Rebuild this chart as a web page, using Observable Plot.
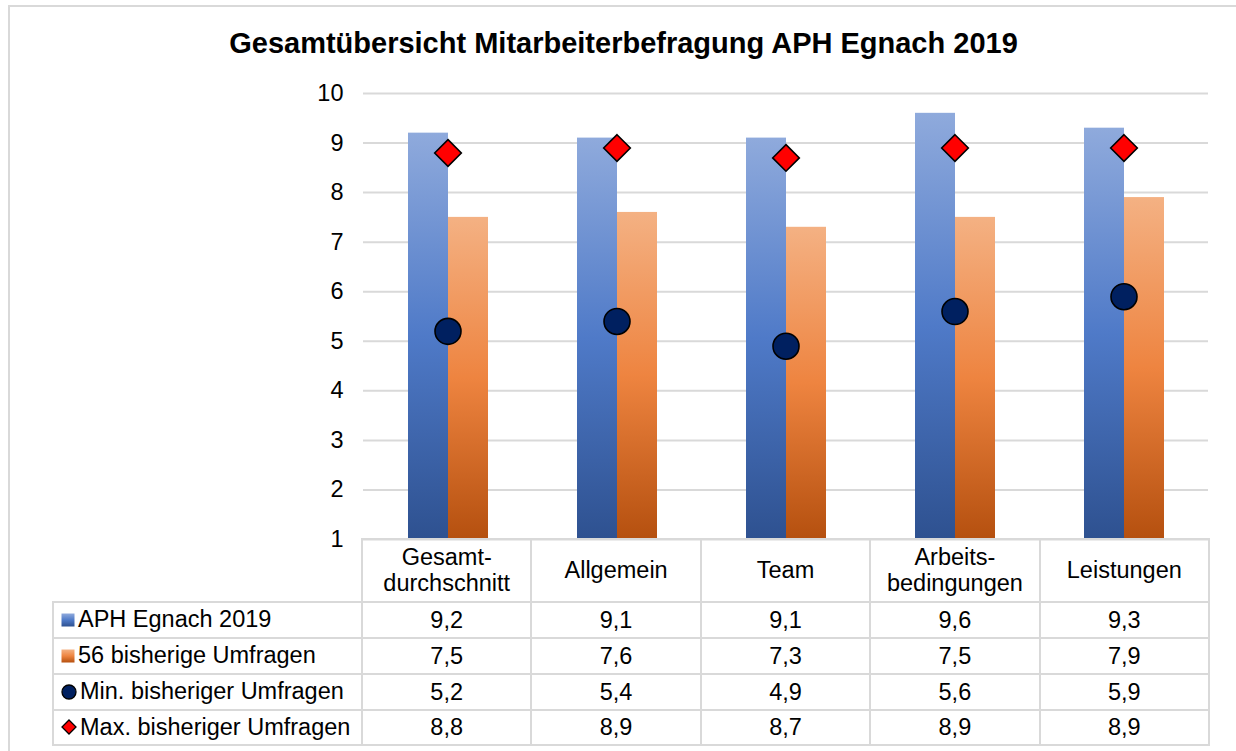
<!DOCTYPE html>
<html>
<head>
<meta charset="utf-8">
<script src="https://cdn.jsdelivr.net/npm/d3@7"></script>
<script src="https://cdn.jsdelivr.net/npm/@observablehq/plot@0.6"></script>
<style>
  html, body { margin: 0; padding: 0; background: #fff; }
  #wrap { position: relative; width: 1236px; height: 751px; overflow: hidden; background: #fff;
          font-family: "Liberation Sans", Arial, sans-serif; color: #000; }
  #frame { position: absolute; left: 8px; top: 5px; width: 1400px; height: 900px; border: 2px solid #d9d9d9; box-sizing: border-box; }
  #title { position: absolute; left: 0; width: 1247px; top: 29px; text-align: center; font-weight: bold; font-size: 29px; line-height: 1; }
  #chart { position: absolute; left: 0; top: 0; }
  .hl { position: absolute; height: 2px; background: #d9d9d9; }
  .vl { position: absolute; width: 2px; background: #d9d9d9; }
  .cell { position: absolute; display: flex; align-items: center; justify-content: center; text-align: center;
          font-size: 23.5px; line-height: 26px; white-space: pre-line; }
  .lab { position: absolute; display: flex; align-items: center; font-size: 23.5px; white-space: nowrap; }
  .lab svg { margin-left: 8px; margin-right: 3px; }
</style>
</head>
<body>
<div id="wrap">
  <div id="frame"></div>
  <div id="title">Gesamtübersicht Mitarbeiterbefragung APH Egnach 2019</div>
  <div id="chart"></div>
</div>
<script>
// ---- data ----
const categories = ["Gesamt-\ndurchschnitt", "Allgemein", "Team", "Arbeits-\nbedingungen", "Leistungen"];
const seriesNames = ["APH Egnach 2019", "56 bisherige Umfragen", "Min. bisheriger Umfragen", "Max. bisheriger Umfragen"];
const aph2019 = [9.2, 9.1, 9.1, 9.6, 9.3];
const bisherige = [7.5, 7.6, 7.3, 7.5, 7.9];
const minVals = [5.2, 5.4, 4.9, 5.6, 5.9];
const maxVals = [8.8, 8.9, 8.7, 8.9, 8.9];
const yTicks = [1, 2, 3, 4, 5, 6, 7, 8, 9, 10];

// ---- layout ----
const W = 1236, H = 560;
const mLeft = 362, mRight = 27, mTop = 93, mBottom = 21;
const fontFamily = '"Liberation Sans", Arial, sans-serif';

const rows = (vals, s) => categories.map((c, i) => ({cat: c, series: s, value: vals[i]}));
const aphData = rows(aph2019, seriesNames[0]);
const bisData = rows(bisherige, seriesNames[1]);
const minData = rows(minVals, seriesNames[2]);
const maxData = rows(maxVals, seriesNames[3]);

const svg = Plot.plot({
  width: W, height: H,
  marginLeft: mLeft, marginRight: mRight, marginTop: mTop, marginBottom: mBottom,
  style: {fontSize: "23.5px", fontFamily, color: "#000", background: "transparent", overflow: "visible"},
  fx: {domain: categories, padding: 0, axis: null},
  x: {domain: [seriesNames[0], seriesNames[1]], paddingInner: 0, paddingOuter: 1.066, axis: null},
  y: {domain: [yTicks[0], yTicks[yTicks.length - 1]], ticks: yTicks, tickSize: 0, tickPadding: 20, label: null, tickFormat: d => String(d)},
  marks: [
    Plot.ruleY(yTicks, {stroke: "#d9d9d9", strokeWidth: 2}),
    Plot.barY(aphData, {fx: "cat", x: "series", y1: yTicks[0], y2: "value", fill: "url(#gradBlue)"}),
    Plot.barY(bisData, {fx: "cat", x: "series", y1: yTicks[0], y2: "value", fill: "url(#gradOrange)"}),
    Plot.dot(minData, {fx: "cat", y: "value", r: 13, fill: "#002060", stroke: "#000", strokeWidth: 1.6}),
    Plot.dot(maxData, {fx: "cat", y: "value", r: 12, symbol: "diamond2", fill: "#ff0000", stroke: "#000", strokeWidth: 1.6})
  ]
});

const NS = "http://www.w3.org/2000/svg";
function makeGrad(id, stops) {
  const g = document.createElementNS(NS, "linearGradient");
  g.setAttribute("id", id);
  g.setAttribute("x1", "0"); g.setAttribute("y1", "0");
  g.setAttribute("x2", "0"); g.setAttribute("y2", "1");
  stops.forEach(([o, c]) => {
    const s = document.createElementNS(NS, "stop");
    s.setAttribute("offset", o); s.setAttribute("stop-color", c);
    g.appendChild(s);
  });
  return g;
}
const blueStops = [[0, "#8faadc"], [0.5, "#4f7ac8"], [1, "#2e5190"]];
const orangeStops = [[0, "#f4b183"], [0.5, "#ee8440"], [1, "#b5500f"]];
const defs = document.createElementNS(NS, "defs");
defs.appendChild(makeGrad("gradBlue", blueStops));
defs.appendChild(makeGrad("gradOrange", orangeStops));
svg.insertBefore(defs, svg.firstChild);
document.getElementById("chart").appendChild(svg);

// ---- data table ----
const wrap = document.getElementById("wrap");
const plotRight = W - mRight;
const step = (plotRight - mLeft) / categories.length;
const colX = [53, ...categories.map((c, i) => mLeft + i * step), plotRight];
const rowY = [H - mBottom, 601.5, 637.5, 673.5, 709.5, 745];
const fmt = v => v.toFixed(1).replace(".", ",");

function add(cls, css, html) {
  const d = document.createElement("div");
  d.className = cls;
  Object.assign(d.style, css);
  if (html !== undefined) d.innerHTML = html;
  wrap.appendChild(d);
  return d;
}
// header cells
categories.forEach((c, i) => {
  const d = add("cell", {left: colX[i + 1] + "px", top: rowY[0] + "px", width: (colX[i + 2] - colX[i + 1]) + "px", height: (rowY[1] - rowY[0]) + "px"});
  d.textContent = c;
});
// swatches
const swatches = [
  `<svg width="14" height="14"><defs><linearGradient id="sb" x1="0" y1="0" x2="0" y2="1">${blueStops.map(([o,c])=>`<stop offset="${o}" stop-color="${c}"/>`).join("")}</linearGradient></defs><rect x="0.5" y="0.5" width="13" height="13" fill="url(#sb)"/></svg>`,
  `<svg width="14" height="14"><defs><linearGradient id="so" x1="0" y1="0" x2="0" y2="1">${orangeStops.map(([o,c])=>`<stop offset="${o}" stop-color="${c}"/>`).join("")}</linearGradient></defs><rect x="0.5" y="0.5" width="13" height="13" fill="url(#so)"/></svg>`,
  `<svg width="16" height="16"><circle cx="8" cy="8" r="7" fill="#002060" stroke="#000" stroke-width="1.3"/></svg>`,
  `<svg width="16" height="16"><path d="M8,1 L15,8 L8,15 L1,8 Z" fill="#ff0000" stroke="#000" stroke-width="1.3"/></svg>`
];
const tableVals = [aph2019, bisherige, minVals, maxVals];
tableVals.forEach((vals, r) => {
  const top = rowY[r + 1], h = rowY[r + 2] - rowY[r + 1];
  add("lab", {left: colX[0] + "px", top: top + "px", width: (colX[1] - colX[0]) + "px", height: h + "px"},
      swatches[r] + `<span>${seriesNames[r]}</span>`);
  vals.forEach((v, i) => {
    add("cell", {left: colX[i + 1] + "px", top: top + "px", width: (colX[i + 2] - colX[i + 1]) + "px", height: h + "px"}, fmt(v));
  });
});
// table lines
add("hl", {left: (colX[1] - 1) + "px", top: (rowY[0] - 1) + "px", width: (colX[6] - colX[1] + 2) + "px"});
for (let r = 1; r < rowY.length; r++) {
  add("hl", {left: (colX[0] - 1) + "px", top: (rowY[r] - 1) + "px", width: (colX[6] - colX[0] + 2) + "px"});
}
add("vl", {left: (colX[0] - 1) + "px", top: (rowY[1] - 1) + "px", height: (rowY[5] - rowY[1] + 2) + "px"});
for (let c = 1; c < colX.length; c++) {
  add("vl", {left: (colX[c] - 1) + "px", top: (rowY[0] - 1) + "px", height: (rowY[5] - rowY[0] + 2) + "px"});
}
</script>
</body>
</html>
